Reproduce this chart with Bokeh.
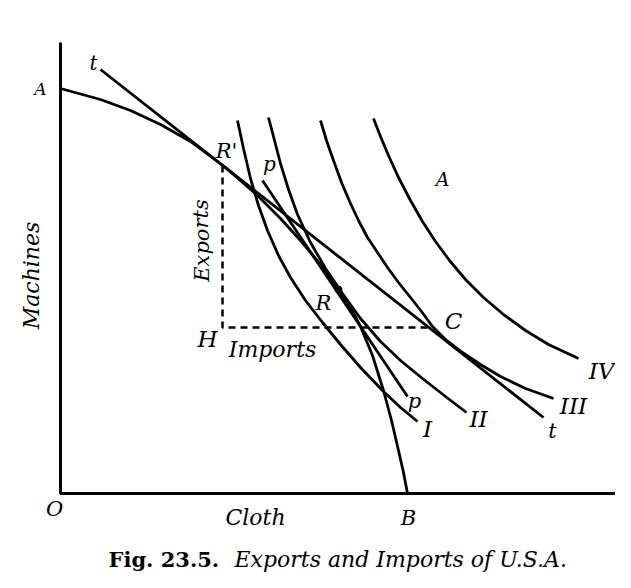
from bokeh.plotting import figure
from bokeh.models import Range1d, Label
from bokeh.embed import file_html
from bokeh.resources import INLINE

# ---- data (Cloth on x, Machines on y) ----
ppc_x = [0, 40, 70, 100, 130, 165, 197, 220, 240, 260, 278, 290, 300, 312, 323, 331, 338, 343, 347]
ppc_y = [405, 394, 383, 369, 352, 326, 298, 275, 253, 229, 204, 186, 167, 138, 103, 73, 43, 21, 0]

ic1_x = [177, 183, 190, 198, 207, 218, 230, 245, 262, 280, 300, 323, 340, 357]
ic1_y = [373, 345, 315, 288, 263, 238, 216, 193, 171, 149, 126, 102, 86, 72]

ic2_x = [208, 214, 220, 228, 237, 250, 265, 282, 300, 320, 340, 362, 385, 406]
ic2_y = [376, 353, 330, 304, 279, 251, 225, 200, 175, 152, 133, 115, 97, 81]

ic3_x = [260, 266, 273, 281, 290, 298, 307, 317, 327, 338, 350, 361, 372, 385, 402, 420, 440, 465, 493]
ic3_y = [373, 353, 333, 311, 290, 273, 256, 241, 226, 211, 196, 182, 167, 154, 141, 129, 117, 105, 95]

ic4_x = [313, 320, 328, 338, 350, 362, 375, 389, 405, 423, 443, 465, 488, 518]
ic4_y = [375, 357, 338, 316, 293, 272, 252, 233, 214, 196, 179, 163, 149, 135]

tt_x = [40, 483]
tt_y = [424, 76]

pp_x = [202, 347]
pp_y = [313, 97]

R1 = (162, 328)   # R' production point after trade
H = (162, 166)
C = (372, 166)
R = (278, 204)

axis_x = [0, 0, 558]
axis_y = [451, 0, 0]

W, H_ = 615, 572
p = figure(width=W, height=H_, output_backend="svg", toolbar_location=None,
           x_range=Range1d(-60, 555), y_range=Range1d(-79, 493),
           min_border=0, outline_line_color=None)
p.axis.visible = False
p.grid.visible = False
p.background_fill_color = "white"

LW = 2.8
p.line(axis_x, axis_y, line_color="black", line_width=3)
p.line(ppc_x, ppc_y, line_color="black", line_width=LW)
for xs, ys in [(ic1_x, ic1_y), (ic2_x, ic2_y), (ic3_x, ic3_y), (ic4_x, ic4_y)]:
    p.line(xs, ys, line_color="black", line_width=LW)
p.line(tt_x, tt_y, line_color="black", line_width=LW)
p.line(pp_x, pp_y, line_color="black", line_width=LW)
p.line([R1[0], H[0], C[0]], [R1[1], H[1], C[1]], line_color="black",
       line_width=2.5, line_dash="7 5")
p.scatter([R[0]], [R[1]], size=7, color="black")

FONT = "DejaVu Serif"

def lab(x, y, t, size=22, style="italic", align="center", angle=0):
    p.add_layout(Label(x=x, y=y, text=t, text_font=FONT, text_font_size=f"{size}px",
                       text_font_style=style, text_align=align,
                       text_baseline="middle", angle=angle, text_color="black"))

lab(-20, 405, "A", 17)
lab(33, 431, "t", 20)
lab(166, 343, "R'", 21)
lab(209, 330, "p", 20)
lab(382, 315, "A", 19)
lab(141, 253, "Exports", 21, angle=1.5708)
lab(-29, 218, "Machines", 22, angle=1.5708)
lab(263, 191, "R", 21)
lab(393, 173, "C", 23)
lab(147, 155, "H", 23)
lab(212, 144, "Imports", 22)
lab(354, 93, "p", 21)
lab(367, 65, "I", 23)
lab(418, 75, "II", 23)
lab(492, 63, "t", 21)
lab(513, 88, "III", 23)
lab(541, 123, "IV", 23)
lab(-6, -15, "O", 21)
lab(195, -24, "Cloth", 22)
lab(348, -24, "B", 21)
lab(48, -66, "Fig. 23.5.", 21, style="bold", align="left")
lab(174, -66, "Exports and Imports of U.S.A.", 22, style="italic", align="left")

open("out.html", "w").write(file_html(p, INLINE))
